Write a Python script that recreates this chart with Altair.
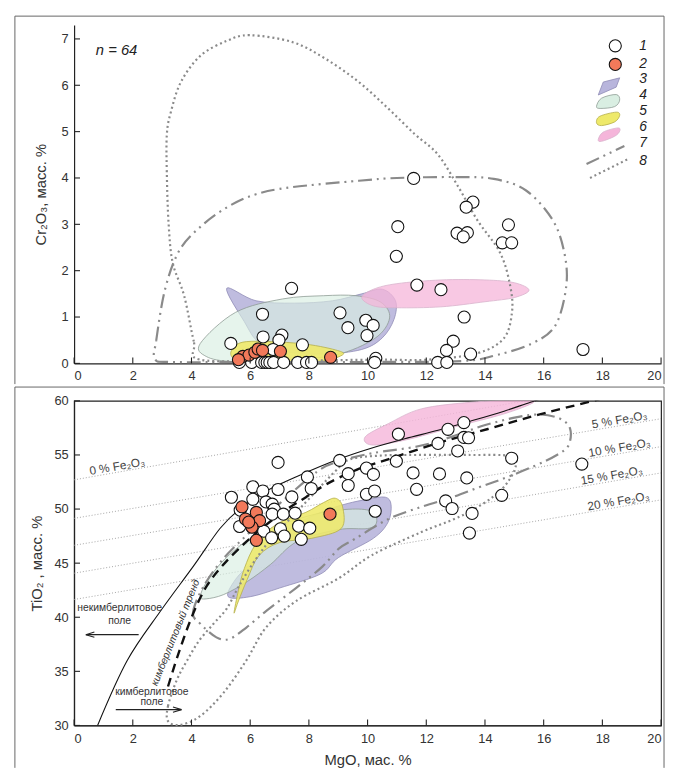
import altair as alt
import pandas as pd

FONT = "Liberation Sans"
GRAY = "#8a8a8a"
INK = "#222222"

# ---------------- TOP PANEL: Cr2O3 vs MgO ----------------
top_open_mgo = [7.41, 6.42, 9.06, 9.94, 10.19, 9.33, 9.98, 6.44, 7.08, 6.98, 5.34, 7.78, 6.78, 10.28,
                5.63, 6.05, 6.39, 6.50, 6.58, 6.67, 6.80, 7.14, 7.62, 7.92, 8.09, 10.24,
                11.57, 13.59, 13.36, 11.03, 13.05, 13.40, 13.26, 14.80, 14.59, 14.91, 10.98, 11.68,
                12.50, 13.29, 12.92, 12.69, 13.51, 12.39, 12.70, 17.34]
top_open_cr = [1.62, 1.06, 1.09, 0.93, 0.82, 0.77, 0.60, 0.57, 0.61, 0.50, 0.43, 0.40, 0.30, 0.11,
               0.02, 0.02, 0.02, 0.02, 0.02, 0.02, 0.02, 0.02, 0.02, 0.02, 0.02, 0.02,
               3.99, 3.48, 3.37, 2.95, 2.81, 2.82, 2.73, 2.99, 2.60, 2.60, 2.31, 1.69,
               1.59, 1.00, 0.48, 0.28, 0.20, 0.02, 0.02, 0.30]
top_red_mgo = [5.75, 5.96, 6.16, 6.27, 6.42, 7.03, 8.74, 5.60]
top_red_cr = [0.15, 0.18, 0.24, 0.31, 0.28, 0.26, 0.13, 0.08]

t3_x = [5.2, 6.2, 7.5, 8.8, 9.8, 10.5, 10.95, 10.9, 10.5, 9.8, 8.5, 7.2, 6.3, 5.8]
t3_y = [1.62, 1.35, 1.30, 1.35, 1.50, 1.60, 1.35, 0.95, 0.55, 0.30, 0.20, 0.25, 0.45, 0.90]
t4_x = [4.3, 5.5, 7.1, 8.5, 9.6, 10.45, 10.75, 10.25, 8.9, 7.1, 5.4, 4.5]
t4_y = [0.43, 1.10, 1.39, 1.46, 1.46, 1.32, 0.98, 0.54, 0.18, 0.08, 0.04, 0.15]
t5_x = [5.38, 5.88, 7.68, 8.91, 9.14, 8.24, 5.99, 5.43]
t5_y = [0.29, 0.47, 0.43, 0.29, 0.18, 0.04, 0.04, 0.11]
t6_x = [9.8, 10.2, 11.0, 12.5, 14.0, 15.0, 15.5, 15.0, 14.0, 12.5, 11.0, 10.2]
t6_y = [1.42, 1.60, 1.72, 1.80, 1.80, 1.74, 1.58, 1.42, 1.33, 1.22, 1.20, 1.24]
t7_x = [2.75, 2.8, 3.1, 3.6, 4.4, 5.3, 6.2, 7.4, 9.7, 11.0, 13.0, 14.3, 15.4, 16.3, 16.7, 16.77,
        16.4, 15.6, 14.4, 13.2, 10.0, 6.0, 3.3]
t7_y = [0.10, 0.50, 1.60, 2.45, 3.00, 3.40, 3.65, 3.80, 3.94, 4.00, 4.02, 3.98, 3.73, 3.10, 2.40, 1.67,
        0.82, 0.43, 0.18, 0.05, 0.03, 0.03, 0.03]
t8_x = [4.3, 4.08, 3.75, 3.36, 3.22, 3.16, 3.16, 3.3, 3.64, 4.31, 5.21, 5.99, 7.45, 8.57, 9.7,
        10.7, 11.6, 12.39, 13.1, 13.74, 14.52, 14.86, 14.92, 14.64, 13.74, 12.05, 10.37, 7.0]
t8_y = [0.08, 0.47, 1.46, 2.17, 3.02, 4.09, 4.94, 5.43, 6.07, 6.64, 6.96, 7.08, 6.93, 6.57, 6.07,
        5.50, 4.95, 4.51, 3.80, 3.09, 2.38, 1.67, 1.10, 0.54, 0.22, 0.08, 0.08, 0.06]

# legend (top panel, data units)
leg_circle_x = [18.44, 18.44]
leg_circle_y = [6.85, 6.45]
leg3_x = [17.86, 18.03, 18.59, 18.47]
leg3_y = [5.79, 6.07, 6.16, 5.96]
leg4_x = [17.80, 17.97, 18.47, 18.59, 18.42, 17.95]
leg4_y = [5.54, 5.72, 5.80, 5.68, 5.54, 5.50]
leg5_x = [17.80, 17.91, 18.47, 18.59, 18.42, 17.97]
leg5_y = [5.19, 5.33, 5.42, 5.35, 5.21, 5.13]
leg6_x = [17.86, 18.03, 18.53, 18.59, 18.42, 17.97]
leg6_y = [4.83, 4.99, 5.08, 5.01, 4.90, 4.79]
leg7_x = [17.46, 18.75]
leg7_y = [4.30, 4.69]
leg8_x = [17.58, 18.85]
leg8_y = [4.00, 4.40]
leg_num = ["1", "2", "3", "4", "5", "6", "7", "8"]
leg_num_y = [6.85, 6.46, 6.14, 5.79, 5.45, 5.09, 4.76, 4.37]

# ---------------- BOTTOM PANEL: TiO2 vs MgO ----------------
bot_open_mgo = [6.95, 9.05, 7.95, 8.08, 6.09, 6.43, 6.95, 5.36, 6.09, 7.42, 6.54, 6.75, 6.82, 5.66,
                6.75, 7.13, 7.53, 5.64, 6.46, 7.03, 7.65, 8.03, 6.73, 7.16, 7.74,
                9.34, 9.96, 10.2, 9.34, 9.96, 10.26,
                11.05, 12.74, 13.28, 13.28, 13.44, 12.4, 13.07, 14.91, 17.3, 10.98, 11.55, 12.45,
                13.38, 10.24, 11.67, 12.66, 12.88, 13.56, 14.57, 13.47]
bot_open_ti = [54.31, 54.50, 52.97, 51.90, 52.06, 51.67, 51.81, 51.09, 50.90, 51.12, 50.66, 50.45, 49.99,
               49.90, 49.53, 49.53, 49.62, 48.39, 47.96, 48.17, 48.42, 48.23, 47.34, 47.50, 47.20,
               53.27, 53.79, 53.20, 52.18, 51.36, 49.80,
               56.92, 57.37, 57.99, 56.62, 56.59, 56.07, 55.37, 54.70, 54.16, 54.43, 53.34, 53.25,
               52.88, 51.67, 51.82, 50.75, 50.05, 49.60, 51.27, 47.78]
bot_red_mgo = [5.72, 6.21, 5.84, 6.32, 6.06, 6.21, 8.72, 5.95]
bot_red_ti = [50.21, 49.69, 49.08, 48.93, 48.32, 47.11, 49.53, 48.80]

b3_x = [5.25, 5.5, 6.1, 6.7, 7.5, 8.5, 9.3, 10.0, 10.6, 10.8, 10.7, 10.2, 9.0, 8.4, 7.0, 6.0]
b3_y = [41.9, 43.5, 45.2, 46.8, 48.5, 49.8, 50.5, 50.9, 51.1, 50.4, 48.8, 47.3, 45.5, 44.0, 42.7, 41.9]
b4_x = [4.3, 4.5, 5.0, 5.6, 6.2, 7.3, 8.5, 9.6, 10.2, 10.3, 10.0, 9.0, 7.6, 6.7, 5.9, 5.1, 4.5]
b4_y = [41.9, 43.2, 45.0, 46.5, 47.6, 48.8, 49.7, 50.0, 49.7, 48.7, 48.2, 48.1, 47.0, 44.9, 43.3, 42.1, 41.7]
b5_x = [5.45, 5.6, 5.8, 6.2, 6.9, 7.9, 8.5, 8.9, 9.15, 9.1, 8.1, 7.0, 6.3, 5.9, 5.6]
b5_y = [40.4, 42.5, 44.5, 46.8, 48.6, 49.7, 50.6, 51.0, 50.2, 48.2, 47.3, 46.9, 45.7, 43.5, 41.5]
b6_x = [9.92, 10.71, 11.83, 13.52, 15.21, 15.66, 14.65, 12.96, 11.27, 10.15]
b6_y = [56.68, 57.9, 59.26, 59.87, 60.08, 59.87, 58.8, 57.59, 56.37, 55.92]
b7_x = [4.3, 4.05, 4.4, 5.08, 6.0, 7.0, 8.3, 9.02, 10.15, 11.72, 12.85, 13.98, 15.1, 15.9, 16.56,
        16.9, 16.85, 16.45, 15.66, 14.54, 13.75, 12.85, 11.83, 10.71, 9.58, 9.02, 8.46, 7.56, 6.54,
        5.87, 5.3, 4.85]
b7_y = [39.4, 40.4, 42.8, 45.4, 47.9, 50.5, 53.5, 54.4, 55.16, 55.8, 56.67, 57.74, 58.5, 58.74, 58.35,
        57.44, 55.9, 55.0, 53.95, 52.73, 51.97, 51.06, 50.2, 49.08, 47.26, 46.34, 44.68, 42.7, 40.57,
        39.05, 38.0, 38.14]
b8_x = [3.2, 3.2, 3.5, 3.85, 4.25, 4.75, 5.2, 5.6, 6.1, 6.7, 7.5, 8.3, 8.9, 9.4, 10.5, 11.7, 13.5,
        14.85, 15.05, 14.76, 14.31, 13.63, 12.96, 11.83, 10.15, 9.02, 7.56, 6.54, 5.87, 5.08, 4.29, 3.61]
b8_y = [30.4, 31.8, 34.2, 36.0, 37.8, 39.4, 40.8, 42.8, 45.0, 47.2, 49.5, 51.8, 53.5, 54.6, 54.95,
        55.0, 55.0, 54.9, 54.0, 52.43, 51.2, 49.99, 49.08, 47.87, 45.74, 43.61, 41.49, 39.05, 36.02,
        32.98, 30.85, 30.05]
solid_x = [0.8, 1.81, 2.94, 4.06, 4.97, 5.64, 6.54, 7.67, 9.0, 10.15, 11.27, 12.4, 13.52, 14.65, 15.55, 16.3]
solid_y = [30.0, 36.0, 40.55, 44.7, 48.2, 50.0, 51.65, 53.1, 54.6, 55.65, 56.5, 57.28, 58.14, 59.05, 59.87, 60.5]
trend_x = [3.2, 3.6, 4.05, 4.5, 5.0, 5.6, 6.3, 7.1, 7.9, 8.6, 9.6, 10.7, 12.4, 14.1, 15.8, 17.9]
trend_y = [33.6, 37.0, 40.3, 42.8, 44.6, 46.3, 48.0, 49.7, 51.1, 52.3, 53.6, 54.6, 56.1, 57.4, 58.7, 60.15]

fe_names = ["0 % Fe₂O₃", "5 % Fe₂O₃", "10 % Fe₂O₃", "15 % Fe₂O₃", "20 % Fe₂O₃"]
fe_y0 = [52.7, 49.14, 46.65, 44.07, 41.64]
fe_y20 = [62.2, 58.35, 55.77, 53.34, 50.85]
fe_lab_x = [1.5, 18.62, 18.62, 18.35, 18.58]

# annotation texts
ann_t = ["некимберлитовое", "поле", "кимберлитовое", "поле"]
ann_x = [1.55, 1.55, 2.65, 2.65]
ann_y = [40.85, 39.66, 33.13, 32.12]
arrow_left = [2.2, 0.4, 38.39]
arrow_right = [1.42, 3.66, 31.46]

x_ticks = [0, 2, 4, 6, 8, 10, 12, 14, 16, 18, 20]
top_y_ticks = [0, 1, 2, 3, 4, 5, 6, 7]
bot_y_ticks = [30, 35, 40, 45, 50, 55, 60]

W = 595
TOP_H = 343
BOT_H = 329


def dfxy(xs, ys):
    return pd.DataFrame({"x": xs, "y": ys, "i": list(range(len(xs)))})


ax_common = dict(ticks=False, tickSize=0, grid=False, domainColor=INK, domainWidth=1.2,
                 labelFont=FONT, labelFontSize=13, labelColor="#333", titleFont=FONT,
                 titleFontSize=15, titleFontWeight="normal", titleColor="#333")

top_xax = alt.Axis(values=x_ticks, title=None, labelPadding=6, **ax_common)
top_yax = alt.Axis(values=top_y_ticks, title="Cr₂O₃, масс. %", labelPadding=6, titlePadding=13, **ax_common)
bot_xax = alt.Axis(values=x_ticks, title="MgO, мас. %", labelPadding=7, titlePadding=8, **ax_common)
bot_yax = alt.Axis(values=bot_y_ticks, title="TiO₂ , масс. %", labelPadding=6, titlePadding=10, **ax_common)

sx_top = alt.Scale(domain=[0, 20], nice=False, zero=False)
sy_top = alt.Scale(domain=[0, 7.3], nice=False, zero=False)
sx_bot = alt.Scale(domain=[0, 20], nice=False, zero=False)
sy_bot = alt.Scale(domain=[30, 60], nice=False, zero=False)


def XT():
    return alt.X("x:Q", scale=sx_top, axis=top_xax)


def YT():
    return alt.Y("y:Q", scale=sy_top, axis=top_yax)


def XB():
    return alt.X("x:Q", scale=sx_bot, axis=bot_xax)


def YB():
    return alt.Y("y:Q", scale=sy_bot, axis=bot_yax)


def shape(xs, ys, X, Y, fill=None, stroke=GRAY, sw=0.8, op=1.0, interp="cardinal-closed",
          dash=None, clip=False):
    kw = dict(interpolate=interp, stroke=stroke, strokeWidth=sw, clip=clip)
    if fill:
        kw["fill"] = fill
        kw["fillOpacity"] = op
    if dash:
        kw["strokeDash"] = dash
    return alt.Chart(dfxy(xs, ys)).mark_line(**kw).encode(x=X(), y=Y(), order="i:Q")


def points(xs, ys, X, Y, fill):
    return alt.Chart(dfxy(xs, ys)).mark_point(
        shape="circle", filled=True, fill=fill, stroke="#111", strokeWidth=1.1,
        size=150, opacity=1).encode(x=X(), y=Y())


def vrule(px, y1, y2):
    return alt.Chart(pd.DataFrame({"a": [0]})).mark_rule(color="#666", strokeWidth=1).encode(
        x=alt.value(px), y=alt.value(y1), y2=alt.value(y2))


def hrule(py, x1, x2):
    return alt.Chart(pd.DataFrame({"a": [0]})).mark_rule(color="#666", strokeWidth=1).encode(
        y=alt.value(py), x=alt.value(x1), x2=alt.value(x2))


def xticks(X, H):
    return alt.Chart(pd.DataFrame({"x": x_ticks})).mark_rule(color=INK, strokeWidth=1.1).encode(
        x=X(), y=alt.value(H), y2=alt.value(H - 6))


def yticks(vals, Y):
    return alt.Chart(pd.DataFrame({"y": vals})).mark_rule(color=INK, strokeWidth=1.1).encode(
        y=Y(), x=alt.value(0), x2=alt.value(6))


PURPLE, GREEN, YELLOW, PINK, RED = "#b8b5dc", "#d9eee2", "#eee96a", "#f5b5da", "#f2795a"
DASHDOT = [14, 5, 2, 5, 2, 5]
DOTS = [2, 3]

# ---------------- build top ----------------
top_layers = [
    shape(t3_x, t3_y, XT, YT, fill=PURPLE, stroke="#8f8cb5", op=0.9),
    shape(t4_x, t4_y, XT, YT, fill=GREEN, stroke="#8e9c94", op=0.65),
    shape(t5_x, t5_y, XT, YT, fill=YELLOW, stroke="#b4ae4a", op=0.9),
    shape(t6_x, t6_y, XT, YT, fill=PINK, stroke="#d9b3cc", op=0.75),
    shape(t7_x, t7_y, XT, YT, stroke=GRAY, sw=2.2, dash=DASHDOT),
    shape(t8_x, t8_y, XT, YT, stroke=GRAY, sw=2.2, dash=DOTS),
    points(top_open_mgo, top_open_cr, XT, YT, "white"),
    points(top_red_mgo, top_red_cr, XT, YT, RED),
    # legend
    points(leg_circle_x[:1], leg_circle_y[:1], XT, YT, "white"),
    points(leg_circle_x[1:], leg_circle_y[1:], XT, YT, RED),
    shape(leg3_x, leg3_y, XT, YT, fill=PURPLE, stroke="#8f8cb5", interp="linear-closed"),
    shape(leg4_x, leg4_y, XT, YT, fill=GREEN, stroke="#8e9c94"),
    shape(leg5_x, leg5_y, XT, YT, fill=YELLOW, stroke="#b4ae4a"),
    shape(leg6_x, leg6_y, XT, YT, fill=PINK, stroke="#d9b3cc"),
    shape(leg7_x, leg7_y, XT, YT, stroke=GRAY, sw=2.2, dash=DASHDOT, interp="linear"),
    shape(leg8_x, leg8_y, XT, YT, stroke=GRAY, sw=2.2, dash=DOTS, interp="linear"),
    alt.Chart(pd.DataFrame({"x": [19.26] * 8, "y": leg_num_y, "t": leg_num})).mark_text(
        font=FONT, fontSize=14, fontStyle="italic", color="#222", align="left").encode(
        x=XT(), y=YT(), text="t:N"),
    alt.Chart(pd.DataFrame({"x": [0.74], "y": [6.77], "t": ["n = 64"]})).mark_text(
        font=FONT, fontSize=15, fontStyle="italic", color="#222", align="left").encode(
        x=XT(), y=YT(), text="t:N"),
    xticks(XT, TOP_H),
    yticks(top_y_ticks, YT),
    # outer frame pieces
    hrule(-9, -60, 598),
    vrule(-60, -9, 364),
    vrule(598, -9, 364),
]
top = alt.layer(*top_layers).properties(
    width=W, height=TOP_H, view=alt.ViewBackground(stroke="transparent"))

# ---------------- build bottom ----------------
fe_rows = []
for k, nm in enumerate(fe_names):
    fe_rows.append({"x": 0, "y": fe_y0[k], "g": nm})
    fe_rows.append({"x": 20, "y": fe_y20[k], "g": nm})
fe_df = pd.DataFrame(fe_rows)
fe_lab = pd.DataFrame({
    "x": fe_lab_x,
    "y": [fe_y0[k] + (fe_y20[k] - fe_y0[k]) * fe_lab_x[k] / 20 for k in range(5)],
    "t": fe_names})

arrows_df = pd.DataFrame({"x": [arrow_left[0], arrow_right[0]], "x2": [arrow_left[1], arrow_right[1]],
                          "y": [arrow_left[2], arrow_right[2]]})

bot_layers = [
    alt.Chart(fe_df).mark_line(stroke="#9a9a9a", strokeWidth=0.9, strokeDash=[1, 2], clip=True).encode(
        x=XB(), y=YB(), detail="g:N"),
    shape(b3_x, b3_y, XB, YB, fill=PURPLE, stroke="#8f8cb5", op=0.9),
    shape(b4_x, b4_y, XB, YB, fill=GREEN, stroke="#8e9c94", op=0.65),
    shape(b5_x, b5_y, XB, YB, fill=YELLOW, stroke="#b4ae4a", op=0.88),
    shape(b6_x, b6_y, XB, YB, fill=PINK, stroke="#d9b3cc", op=0.8, clip=True),
    shape(b7_x, b7_y, XB, YB, stroke=GRAY, sw=2.2, dash=DASHDOT),
    shape(b8_x, b8_y, XB, YB, stroke=GRAY, sw=2.2, dash=DOTS),
    shape(solid_x, solid_y, XB, YB, stroke="#111", sw=1.1, interp="cardinal", clip=True),
    shape(trend_x, trend_y, XB, YB, stroke="#111", sw=2.4, interp="cardinal", dash=[9, 6], clip=True),
    alt.Chart(fe_lab).mark_text(font=FONT, fontSize=12, color="#444", angle=350, baseline="alphabetic",
                                dy=-2).encode(x=XB(), y=YB(), text="t:N"),
    points(bot_open_mgo, bot_open_ti, XB, YB, "white"),
    points(bot_red_mgo, bot_red_ti, XB, YB, RED),
    alt.Chart(pd.DataFrame({"x": ann_x, "y": ann_y, "t": ann_t})).mark_text(
        font=FONT, fontSize=10.5, color="#333").encode(x=XB(), y=YB(), text="t:N"),
    alt.Chart(pd.DataFrame({"x": [3.46], "y": [38.57], "t": ["кимберлитовый тренд"]})).mark_text(
        font=FONT, fontSize=10.5, fontStyle="italic", color="#333", angle=292).encode(
        x=XB(), y=YB(), text="t:N"),
    alt.Chart(arrows_df).mark_rule(color="#222", strokeWidth=1.1).encode(
        x=XB(), x2="x2:Q", y=YB()),
    alt.Chart(pd.DataFrame({"x": [arrow_left[1]], "y": [arrow_left[2]]})).mark_point(
        shape="M 0 0 L 1 -0.3 M 0 0 L 1 0.3", size=300, stroke="#222", strokeWidth=1.1,
        filled=False, opacity=1).encode(x=XB(), y=YB()),
    alt.Chart(pd.DataFrame({"x": [arrow_right[1]], "y": [arrow_right[2]]})).mark_point(
        shape="M 0 0 L -1 -0.3 M 0 0 L -1 0.3", size=300, stroke="#222", strokeWidth=1.1,
        filled=False, opacity=1).encode(x=XB(), y=YB()),
    xticks(XB, BOT_H),
    yticks(bot_y_ticks, YB),
    hrule(-14, -60, 598),
    vrule(-60, -14, 372),
    vrule(598, -14, 372),
]
bottom = alt.layer(*bot_layers).properties(
    width=W, height=BOT_H, view=alt.ViewBackground(stroke=INK, strokeWidth=1.2))

chart = alt.vconcat(top, bottom, spacing=0).properties(
    padding={"left": 5, "top": 2, "right": 0, "bottom": 0}
).configure(font=FONT)

chart.save("out.html", embed_options={"renderer": "svg", "actions": False})
